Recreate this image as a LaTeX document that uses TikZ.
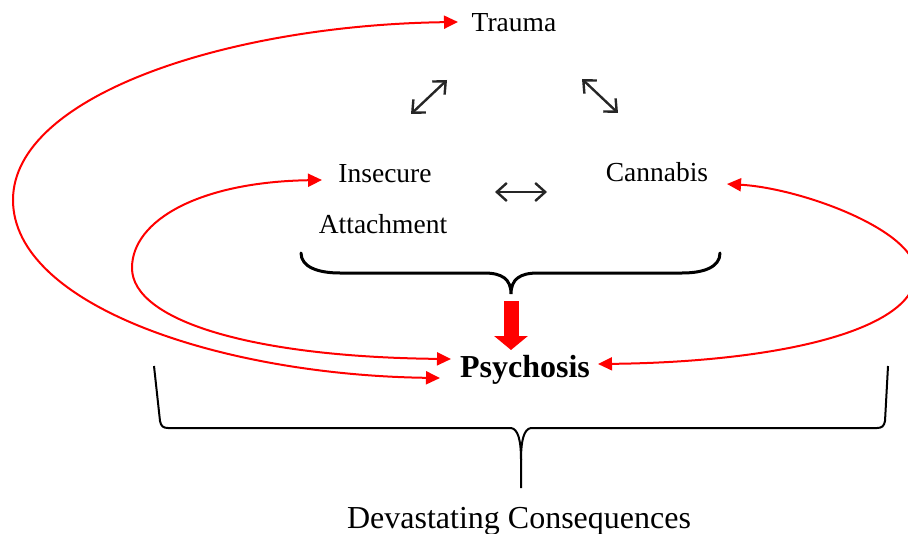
\documentclass[tikz,border=0pt]{standalone}
\usepackage{fontspec}
\setmainfont{Liberation Serif}
\usetikzlibrary{arrows.meta}
\tikzset{
  lbl/.style={anchor=base, inner sep=0pt, font=\fontsize{13.75}{16}\selectfont},
  bigl/.style={anchor=base, inner sep=0pt, font=\fontsize{16}{19}\selectfont},
  blk/.style={draw=black!85, line width=1.2pt, {Straight Barb[length=5pt,width=9pt]}-{Straight Barb[length=5pt,width=9pt]}},
  redc/.style={draw=red, line width=1pt},
  bigarrow/.style={draw=red, line width=7.5pt, -{Triangle[length=7pt,width=16.5pt]}},
  brace/.style={draw=black, line width=1.5pt, line cap=round},
  brace2/.style={draw=black, line width=1pt}
}
\begin{document}
\begin{tikzpicture}[x=0.5pt,y=-0.5pt]
\useasboundingbox (0,0) rectangle (908,534);
\node[lbl] (trauma) at (514,32) {Trauma};
\node[lbl] (insec) at (385,183) {Insecure};
\node[lbl] (attach) at (383,233) {Attachment};
\node[lbl] (cann) at (657,182) {Cannabis};
\node[bigl] (psy) at (525,377) {\bfseries Psychosis};
\node[bigl] (dev) at (519,528) {Devastating Consequences};

% black double arrows
\coordinate (a1) at (411,114); \coordinate (a2) at (447,80);
\coordinate (b1) at (582,79);  \coordinate (b2) at (618,113);
\coordinate (c1) at (495,192); \coordinate (c2) at (547,192);
\draw[blk] (a1) -- (a2);
\draw[blk] (b1) -- (b2);
\draw[blk] (c1) -- (c2);

% top brace
\coordinate (tb) at (511,294);
\draw[brace] (301,253) .. controls (301,267) and (318,273) .. (340,273) -- (484,273)
  .. controls (502,273) and (511,279) .. (tb)
  .. controls (511,279) and (520,273) .. (538,273) -- (682,273)
  .. controls (704,273) and (720,267) .. (720,253);

% big red arrow
\coordinate (r1) at (511,301); \coordinate (r2) at (511,350);
\draw[bigarrow] (r1) -- (r2);

% bottom brace
\coordinate (bb) at (521,488);
\draw[brace2] (154,366) -- (160,421) .. controls (161,426) and (163,428) .. (168,428) -- (511,428)
  .. controls (518,429) and (521,440) .. (521,460) -- (bb);
\draw[brace2] (888,366) -- (885,421) .. controls (884,426) and (882,428) .. (877,428) -- (531,428)
  .. controls (524,429) and (521,440) .. (521,460);

% red curves
\coordinate (t1) at (458,22); \coordinate (t2) at (440,378);
\draw[redc, {Triangle[length=7pt,width=6.5pt]}-{Triangle[length=7pt,width=6.5pt]}]
  (t2) .. controls (220,375) and (13,305) .. (13,200)
  .. controls (13,95) and (230,25) .. (t1);
\coordinate (i1) at (322,180); \coordinate (i2) at (451,359);
\draw[redc, {Triangle[length=7pt,width=6.5pt]}-{Triangle[length=7pt,width=6.5pt]}]
  (i2) .. controls (250,357) and (132,320) .. (132,268)
  .. controls (132,220) and (200,182) .. (i1);
\coordinate (k1) at (727,184); \coordinate (k2) at (598,364);
\draw[redc, {Triangle[length=7pt,width=6.5pt]}-{Triangle[length=7pt,width=6.5pt]}]
  (k1) .. controls (800,188) and (916,230) .. (916,273)
  .. controls (916,330) and (780,362) .. (k2);
\end{tikzpicture}
\end{document}
